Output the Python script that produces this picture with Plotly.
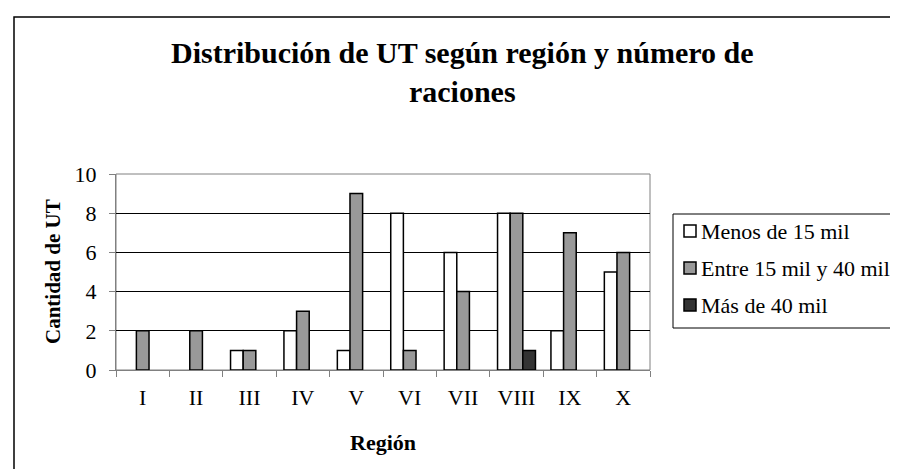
import plotly.graph_objects as go

regiones = ["I", "II", "III", "IV", "V", "VI", "VII", "VIII", "IX", "X"]
menos_15 = [0, 0, 1, 2, 1, 8, 6, 8, 2, 5]
entre_15_40 = [2, 2, 1, 3, 9, 1, 4, 8, 7, 6]
mas_40 = [0, 0, 0, 0, 0, 0, 0, 1, 0, 0]
series_names = ["Menos de 15 mil", "Entre 15 mil y 40 mil", "Más de 40 mil"]
series_colors = ["#ffffff", "#999999", "#333333"]
y_ticks = [0, 2, 4, 6, 8, 10]

FONT = "Liberation Serif"

W, H = 898, 469
L, R, T, B = 108, 642, 166, 362
PW, PH = R - L, B - T


def px(x):
    return (x - L) / PW


def py(y):
    return (B - y) / PH


fig = go.Figure()
for name, vals, col in zip(series_names, [menos_15, entre_15_40, mas_40], series_colors):
    fig.add_trace(go.Bar(
        x=regiones, y=[v if v else None for v in vals], name=name,
        marker=dict(color=col, line=dict(color="#000000", width=1.5)),
        showlegend=False,
    ))

fig.update_layout(
    width=W, height=H,
    margin=dict(l=L, r=W - R, t=T, b=H - B, pad=0, autoexpand=False),
    paper_bgcolor="#ffffff", plot_bgcolor="#ffffff",
    barmode="group", bargap=0.29, bargroupgap=0,
    font=dict(family=FONT, color="#000000", size=22),
    xaxis=dict(
        showline=True, linecolor="#808080", linewidth=1,
        ticks="outside", ticklen=6, tickcolor="#808080", tickson="boundaries",
        tickfont=dict(family=FONT, size=22), ticklabelstandoff=8,
        showgrid=False,
    ),
    yaxis=dict(
        range=[0, 10], tickvals=y_ticks,
        showline=True, linecolor="#808080", linewidth=1,
        ticks="outside", ticklen=6, tickcolor="#808080",
        tickfont=dict(family=FONT, size=22), ticklabelstandoff=8,
        showgrid=True, gridcolor="#000000", gridwidth=1,
        zeroline=False,
    ),
    showlegend=False,
)

# Title and axis titles
fig.add_annotation(
    text="<b>Distribución de UT según región y número de<br>raciones</b>",
    xref="paper", yref="paper", x=px(454), y=py(64), xanchor="center", yanchor="middle",
    showarrow=False, font=dict(family=FONT, size=30, color="#000000"),
)
fig.add_annotation(
    text="<b>Región</b>", xref="paper", yref="paper", x=px(375), y=py(434),
    xanchor="center", yanchor="middle", showarrow=False,
    font=dict(family=FONT, size=22, color="#000000"),
)
fig.add_annotation(
    text="<b>Cantidad de UT</b>", xref="paper", yref="paper", x=px(45), y=py(264),
    xanchor="center", yanchor="middle", showarrow=False, textangle=-90,
    font=dict(family=FONT, size=21, color="#000000"),
)

# plot area border (grey)
fig.add_shape(type="rect", xref="paper", yref="paper", x0=0, x1=1, y0=0, y1=1,
              line=dict(color="#808080", width=1), layer="below")
# outer chart border
fig.add_shape(type="rect", xref="paper", yref="paper",
              x0=px(6), x1=px(905), y0=py(480), y1=py(9),
              line=dict(color="#000000", width=1.5), layer="below")

# Legend (drawn manually)
fig.add_shape(type="rect", xref="paper", yref="paper",
              x0=px(665), x1=px(905), y0=py(320), y1=py(206),
              line=dict(color="#000000", width=1), fillcolor="#ffffff", layer="above")
legend_rows = [223, 260, 297]
for name, col, ry in zip(series_names, series_colors, legend_rows):
    fig.add_shape(type="rect", xref="paper", yref="paper",
                  x0=px(676), x1=px(688), y0=py(ry + 6), y1=py(ry - 6),
                  line=dict(color="#000000", width=1.5), fillcolor=col, layer="above")
    fig.add_annotation(
        text=name, xref="paper", yref="paper", x=px(691), y=py(ry),
        xanchor="left", yanchor="middle", showarrow=False,
        font=dict(family=FONT, size=22, color="#000000"),
    )

fig.write_html("out.html")
